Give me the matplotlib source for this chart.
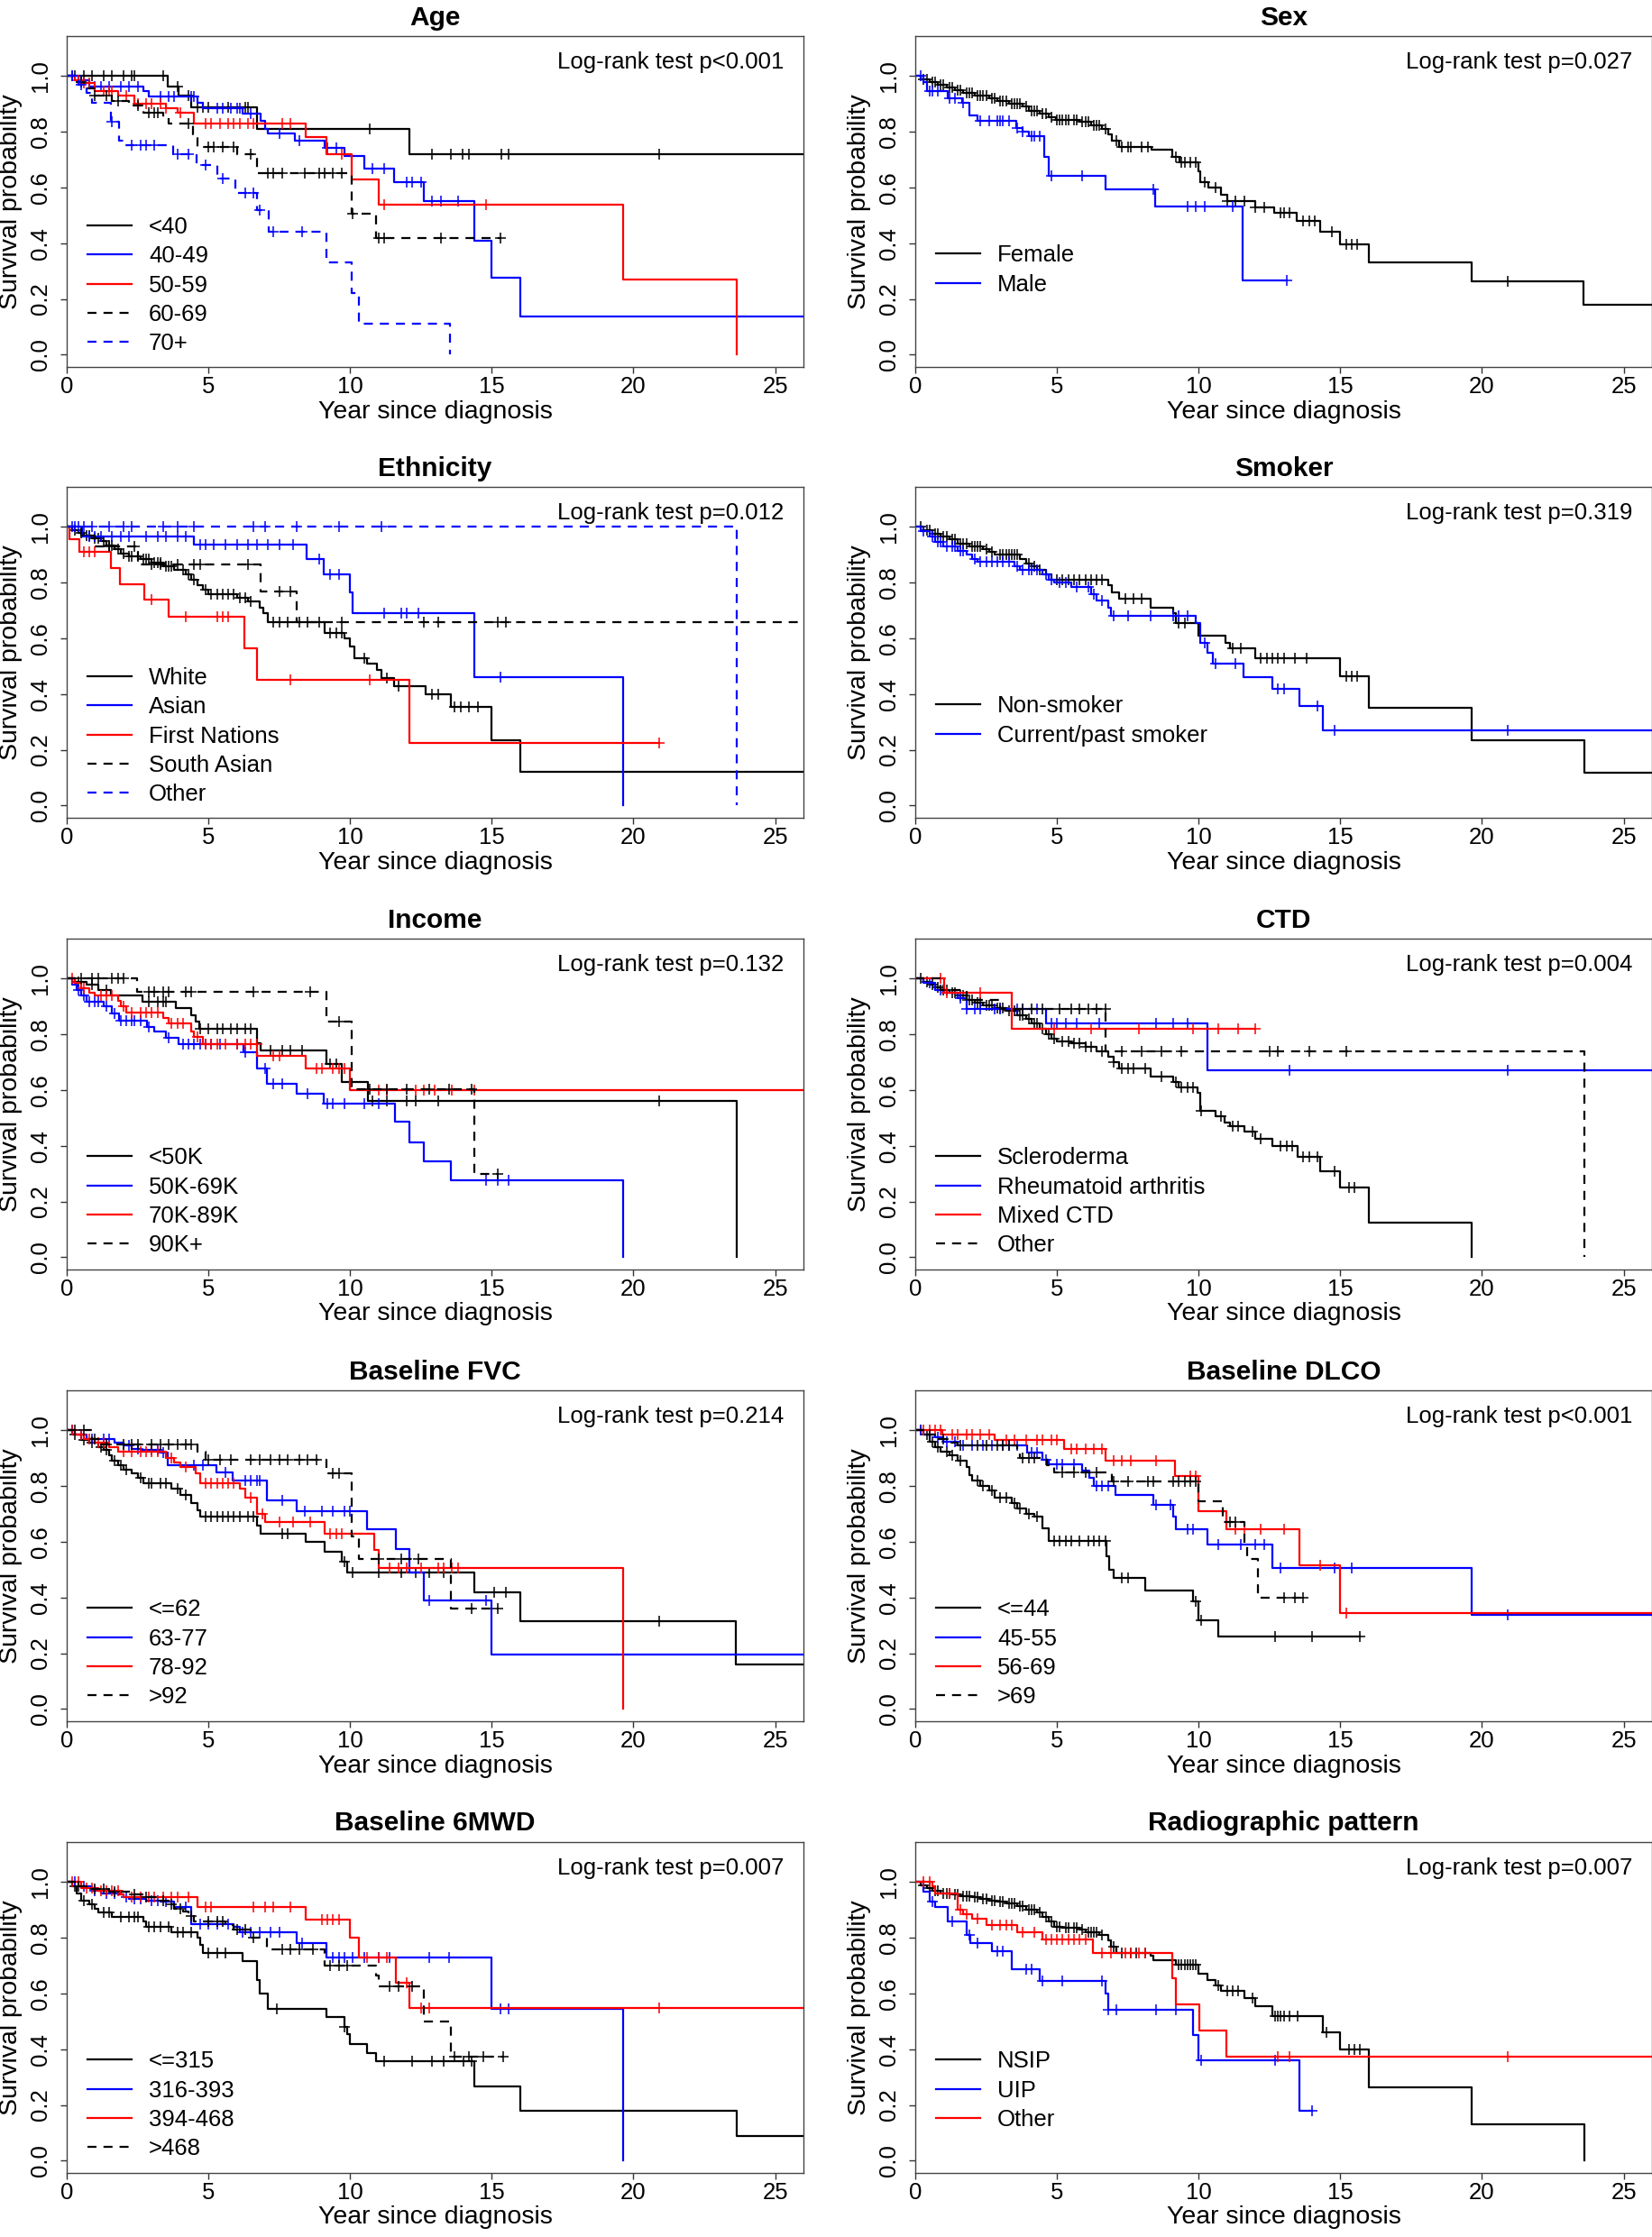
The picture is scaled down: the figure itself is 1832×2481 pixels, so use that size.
import numpy as np
import matplotlib.pyplot as plt

plt.rcParams['font.family'] = ['Liberation Sans', 'DejaVu Sans']

# Kaplan-Meier curves: step times (_t), survival after
# each step (_s), censoring times (_c), last follow-up (_end)

# --- Age ---
age_lt40_t = [3.57, 3.94, 4.40, 6.72, 12.09]
age_lt40_s = [0.964, 0.929, 0.889, 0.810, 0.721]
age_lt40_c = [0.3, 0.6, 0.9, 1.3, 1.6, 2.0, 2.3, 2.4, 3.4, 3.9, 4.3, 4.6, 4.8, 5.0, 5.7, 6.3, 6.4,
              10.7, 12.9, 13.55, 13.97, 14.2, 15.35, 15.6, 20.9]
age_lt40_end = 27
age_40_49_t = [0.4, 0.8, 2.7, 2.9, 4.6, 4.8, 6.2, 6.85, 7.0, 7.1, 8.06, 9.1, 9.8, 10.5, 11.55, 12.6, 14.4, 15.0, 16.0]
age_40_49_s = [0.985, 0.963, 0.945, 0.928, 0.905, 0.886, 0.867, 0.84, 0.81, 0.793, 0.767, 0.742, 0.715,
               0.667, 0.618, 0.55, 0.41, 0.275, 0.138]
age_40_49_c = [0.2, 0.5, 1.0, 1.2, 1.5, 1.9, 2.2, 2.5, 3.3, 3.6, 3.8, 4.4, 4.5, 5.3, 5.5, 5.8, 6.0, 6.1, 6.5,
               7.5, 8.2, 9.2, 9.5, 10.8, 11.2, 12.0, 12.2, 12.5, 12.9, 13.2, 13.8]
age_40_49_end = 27
age_50_59_t = [0.3, 0.55, 1.0, 1.8, 2.4, 3.5, 3.9, 4.5, 8.42, 9.16, 10.07, 11.0, 19.65, 23.63]
age_50_59_s = [0.985, 0.976, 0.948, 0.93, 0.90, 0.885, 0.868, 0.83, 0.78, 0.72, 0.63, 0.54, 0.27, 0.0]
age_50_59_c = [0.4, 0.6, 0.8, 1.3, 1.5, 1.6, 2.1, 2.5, 2.8, 3.0, 3.3, 3.5, 4.0, 4.9, 5.1, 5.4, 5.7, 5.9,
               6.1, 6.4, 6.6, 7.6, 7.9, 9.7, 11.2, 14.8]
age_50_59_end = 23.63
age_60_69_t = [0.3, 0.6, 1.0, 1.6, 2.2, 2.7, 3.4, 3.6, 4.45, 4.6, 6.0, 6.7, 10.07, 10.9]
age_60_69_s = [0.98, 0.955, 0.93, 0.91, 0.895, 0.87, 0.853, 0.83, 0.79, 0.745, 0.72, 0.653, 0.505, 0.42]
age_60_69_c = [0.5, 1.0, 1.4, 1.8, 2.5, 2.9, 3.1, 3.2, 4.3, 5.0, 5.2, 5.5, 5.9, 6.5, 7.1, 7.3, 7.6, 8.4,
               8.9, 9.1, 9.4, 9.7, 10.1, 11.0, 11.2, 13.2, 15.3]
age_60_69_end = 15.3
age_70_t = [0.4, 0.7, 0.9, 1.56, 1.83, 2.0, 3.75, 4.58, 5.3, 5.95, 6.7, 7.14, 9.16, 10.07, 10.3, 13.52]
age_70_s = [0.97, 0.94, 0.904, 0.837, 0.77, 0.752, 0.72, 0.68, 0.633, 0.58, 0.52, 0.44, 0.33, 0.22, 0.11, 0.0]
age_70_c = [0.2, 0.5, 1.6, 2.3, 2.6, 2.8, 3.1, 3.9, 4.3, 4.9, 5.5, 6.3, 6.6, 6.8, 7.3, 8.3]
age_70_end = 13.52

# --- Sex ---
female_t = [0.2, 0.5, 0.8, 1.1, 1.4, 1.7, 2.1, 2.6, 2.9, 3.3, 3.8, 4.0, 4.4, 4.7, 4.95, 5.8, 6.2, 6.6, 6.8,
            6.95, 7.2, 8.33, 9.06, 9.34, 9.98, 10.07, 10.35, 10.8, 11.0, 12.0, 12.65, 13.47, 14.3, 14.98,
            16.0, 19.63, 23.58]
female_s = [0.99, 0.98, 0.97, 0.96, 0.95, 0.94, 0.93, 0.92, 0.91, 0.90, 0.89, 0.875, 0.865, 0.852, 0.842,
            0.835, 0.825, 0.81, 0.79, 0.77, 0.745, 0.735, 0.71, 0.69, 0.66, 0.618, 0.60, 0.575, 0.552,
            0.53, 0.51, 0.48, 0.44, 0.395, 0.33, 0.265, 0.178]
female_c = [0.3, 0.4, 0.6, 0.7, 0.9, 1.0, 1.2, 1.3, 1.5, 1.6, 1.8, 1.9, 2.0, 2.2, 2.3, 2.4, 2.5, 2.7, 2.8,
            3.0, 3.1, 3.2, 3.4, 3.5, 3.6, 3.7, 3.9, 4.1, 4.2, 4.3, 4.5, 4.6, 4.8, 5.0, 5.1, 5.2, 5.3, 5.4,
            5.6, 5.7, 5.9, 6.0, 6.1, 6.3, 6.4, 6.5, 6.7, 7.1, 7.3, 7.5, 7.6, 8.0, 8.2, 9.2, 9.4, 9.5, 9.7,
            9.9, 10.2, 10.6, 11.0, 11.3, 11.6, 12.0, 12.3, 12.9, 13.0, 13.2, 13.7, 13.9, 14.1, 14.7, 15.2,
            15.4, 15.6, 20.9]
female_end = 27
male_t = [0.3, 0.4, 1.15, 1.65, 1.9, 2.2, 3.55, 3.8, 4.0, 4.55, 4.7, 6.7, 8.45, 11.55]
male_s = [0.98, 0.948, 0.92, 0.905, 0.86, 0.839, 0.815, 0.80, 0.785, 0.71, 0.642, 0.594, 0.533, 0.267]
male_c = [0.2, 0.5, 0.6, 0.8, 1.2, 1.4, 1.7, 2.3, 2.6, 2.9, 3.0, 3.1, 3.3, 3.6, 3.8, 4.1, 4.2, 4.4, 4.8,
          5.9, 8.4, 9.6, 9.9, 10.2, 11.2, 13.1]
male_end = 13.1

# --- Ethnicity ---
white_t = [0.2, 0.4, 0.6, 0.9, 1.2, 1.4, 1.7, 1.9, 2.2, 2.6, 3.0, 3.4, 3.8, 4.2, 4.4, 4.6, 4.8, 5.0, 6.0,
           6.4, 6.8, 6.95, 7.1, 9.1, 9.8, 10.0, 10.15, 10.6, 10.95, 11.1, 11.55, 12.65, 13.55, 15.0, 16.0]
white_s = [0.99, 0.98, 0.97, 0.96, 0.95, 0.935, 0.92, 0.905, 0.895, 0.885, 0.872, 0.86, 0.845, 0.83, 0.81,
           0.79, 0.775, 0.76, 0.745, 0.733, 0.71, 0.69, 0.657, 0.62, 0.60, 0.57, 0.53, 0.508, 0.486,
           0.459, 0.43, 0.40, 0.353, 0.235, 0.12]
white_c = [0.3, 0.5, 0.7, 0.8, 1.0, 1.1, 1.3, 1.5, 1.6, 1.8, 2.0, 2.2, 2.3, 2.5, 2.7, 2.8, 2.9, 3.1, 3.2,
           3.3, 3.5, 3.6, 3.7, 4.1, 4.3, 4.5, 4.9, 5.1, 5.3, 5.5, 5.7, 5.9, 6.1, 6.3, 6.5, 7.3, 7.5, 7.8,
           8.2, 8.5, 8.9, 9.3, 9.5, 9.7, 10.5, 11.3, 11.7, 12.9, 13.1, 13.7, 13.9, 14.2, 14.5]
white_end = 27
asian_t = [0.55, 4.5, 8.48, 9.07, 10.0, 10.1, 14.38, 19.65]
asian_s = [0.967, 0.937, 0.885, 0.83, 0.765, 0.692, 0.462, 0.0]
asian_c = [0.2, 0.4, 0.8, 1.0, 1.2, 1.6, 1.9, 2.2, 2.8, 3.2, 3.5, 3.9, 4.2, 4.7, 4.9, 5.2, 5.6, 6.0, 6.4,
           6.7, 7.1, 7.5, 8.0, 8.9, 9.3, 9.6, 11.2, 11.8, 12.0, 12.4, 15.3]
asian_end = 19.65
first_nations_t = [0.09, 0.46, 1.56, 1.87, 2.75, 3.6, 6.26, 6.72, 12.09]
first_nations_s = [0.955, 0.91, 0.853, 0.795, 0.738, 0.677, 0.565, 0.452, 0.226]
first_nations_c = [0.6, 0.8, 1.0, 3.0, 4.2, 5.3, 5.5, 5.7, 7.9, 10.7, 20.9]
first_nations_end = 20.9
south_asian_t = [0.5, 1.0, 2.5, 6.83, 8.11]
south_asian_s = [0.97, 0.93, 0.865, 0.77, 0.657]
south_asian_c = [1.5, 2.4, 3.0, 3.3, 3.9, 4.5, 4.7, 6.4, 7.5, 7.9, 9.7, 12.6, 13.1, 15.2, 15.5]
south_asian_end = 27
eth_other_t = [23.63]
eth_other_s = [0.0]
eth_other_c = [0.3, 0.6, 0.9, 1.5, 2.0, 2.3, 3.4, 3.9, 4.5, 6.6, 7.0, 8.1, 9.6, 11.1]
eth_other_end = 23.63

# --- Smoker ---
nonsmoker_t = [0.3, 0.6, 0.9, 1.2, 1.5, 1.9, 2.4, 2.6, 2.8, 3.7, 3.9, 4.1, 4.3, 4.6, 4.8, 6.8, 6.95, 7.2,
               8.3, 9.1, 9.2, 10.0, 10.95, 11.1, 12.0, 15.0, 16.0, 19.65, 23.6]
nonsmoker_s = [0.99, 0.975, 0.965, 0.955, 0.94, 0.93, 0.92, 0.91, 0.90, 0.885, 0.87, 0.86, 0.845, 0.83,
               0.812, 0.79, 0.765, 0.742, 0.71, 0.69, 0.655, 0.61, 0.585, 0.565, 0.53, 0.465, 0.35,
               0.233, 0.118]
nonsmoker_c = [0.2, 0.4, 0.5, 0.7, 0.8, 1.0, 1.1, 1.3, 1.4, 1.6, 1.7, 1.8, 2.0, 2.1, 2.2, 2.3, 2.5, 2.7,
               3.0, 3.1, 3.2, 3.3, 3.4, 3.5, 3.6, 4.0, 4.2, 4.4, 5.0, 5.2, 5.4, 5.6, 5.8, 6.0, 6.2, 6.4,
               6.6, 7.4, 7.7, 8.0, 9.3, 9.5, 11.2, 11.5, 12.2, 12.4, 12.6, 12.8, 13.0, 13.4, 13.8, 15.2,
               15.4, 15.6]
nonsmoker_end = 27
smoker_t = [0.2, 0.5, 0.7, 1.0, 1.5, 1.8, 2.0, 2.2, 3.5, 3.7, 4.5, 4.7, 4.9, 5.5, 6.2, 6.4, 6.8, 6.9, 9.9,
            10.05, 10.3, 10.5, 11.58, 12.6, 13.55, 14.38]
smoker_s = [0.985, 0.965, 0.945, 0.93, 0.915, 0.90, 0.885, 0.875, 0.86, 0.845, 0.83, 0.81, 0.80, 0.785,
            0.76, 0.737, 0.71, 0.68, 0.655, 0.585, 0.55, 0.51, 0.462, 0.418, 0.357, 0.27]
smoker_c = [0.3, 0.6, 0.8, 0.9, 1.1, 1.3, 1.4, 1.6, 1.7, 2.1, 2.3, 2.5, 2.7, 2.9, 3.1, 3.3, 3.6, 3.8, 4.0,
            4.1, 4.3, 4.6, 4.8, 5.1, 5.3, 5.7, 6.1, 6.3, 6.6, 7.0, 7.5, 8.3, 9.1, 9.3, 9.6, 10.2, 10.6,
            11.3, 12.8, 13.0, 14.2, 14.8, 20.9]
smoker_end = 27

# --- Income ---
inc_lt50_t = [0.3, 0.7, 1.1, 1.56, 2.66, 3.85, 4.4, 4.55, 4.67, 6.72, 6.83, 9.16, 9.7, 10.62, 23.63]
inc_lt50_s = [0.99, 0.98, 0.96, 0.94, 0.918, 0.895, 0.87, 0.845, 0.82, 0.77, 0.742, 0.695, 0.63, 0.56, 0.0]
inc_lt50_c = [0.4, 0.9, 1.4, 2.9, 3.2, 3.4, 3.5, 4.7, 5.0, 5.3, 5.5, 5.8, 6.0, 6.3, 6.5, 7.2, 7.6, 7.9,
              8.3, 9.3, 9.5, 10.8, 11.3, 12.0, 12.3, 13.1, 20.9]
inc_lt50_end = 23.63
inc_50_69_t = [0.2, 0.35, 0.5, 0.7, 1.3, 1.6, 1.85, 2.84, 3.1, 3.5, 3.94, 6.23, 6.72, 7.05, 8.11, 9.07,
               11.59, 12.09, 12.6, 13.55, 19.65]
inc_50_69_s = [0.98, 0.96, 0.94, 0.918, 0.902, 0.875, 0.848, 0.826, 0.81, 0.788, 0.764, 0.737, 0.679,
               0.622, 0.587, 0.552, 0.486, 0.413, 0.345, 0.277, 0.0]
inc_50_69_c = [0.4, 0.6, 0.8, 1.0, 1.1, 1.4, 1.7, 1.9, 2.1, 2.3, 2.4, 2.6, 2.9, 3.6, 4.1, 4.3, 4.5, 4.7,
               4.9, 5.1, 5.4, 6.0, 6.3, 7.0, 7.3, 7.6, 8.5, 9.2, 9.4, 9.8, 10.5, 11.0, 14.8, 15.2, 15.6]
inc_50_69_end = 19.65
inc_70_89_t = [0.3, 0.5, 0.8, 1.0, 1.8, 1.9, 2.1, 3.4, 3.6, 4.4, 4.5, 4.8, 6.72, 8.42, 10.0]
inc_70_89_s = [0.985, 0.965, 0.95, 0.94, 0.92, 0.90, 0.88, 0.86, 0.84, 0.81, 0.79, 0.765, 0.722, 0.678, 0.60]
inc_70_89_c = [0.2, 0.6, 1.2, 1.4, 1.6, 2.0, 2.3, 2.6, 2.8, 3.0, 3.2, 3.7, 3.9, 4.1, 4.6, 4.9, 5.1, 5.3,
               5.6, 6.0, 6.3, 6.5, 6.7, 7.3, 7.5, 8.8, 9.0, 9.4, 9.6, 9.8, 11.0, 11.3, 12.3, 12.6, 13.0,
               13.6, 14.4]
inc_70_89_end = 27
inc_90_t = [2.47, 9.16, 10.07, 14.38]
inc_90_s = [0.952, 0.845, 0.605, 0.30]
inc_90_c = [0.5, 0.9, 1.1, 1.6, 1.8, 2.0, 2.9, 3.1, 3.4, 3.6, 4.2, 4.4, 6.6, 8.6, 9.6, 10.7, 11.3, 12.0,
            12.8, 13.5, 14.3, 15.2]
inc_90_end = 15.2

# --- CTD ---
scl_t = [0.3, 0.5, 0.7, 0.9, 1.2, 1.5, 1.8, 2.1, 2.4, 2.8, 3.2, 3.6, 3.9, 4.1, 4.4, 4.6, 4.8, 5.0, 5.5,
         6.0, 6.4, 6.8, 7.0, 7.2, 8.3, 9.1, 9.3, 9.95, 10.05, 10.6, 10.9, 11.1, 11.6, 12.0, 12.6, 13.5,
         14.3, 15.0, 16.0, 19.65]
scl_s = [0.99, 0.98, 0.97, 0.96, 0.95, 0.94, 0.925, 0.915, 0.905, 0.895, 0.885, 0.87, 0.855, 0.84, 0.82,
         0.80, 0.785, 0.775, 0.768, 0.755, 0.74, 0.72, 0.70, 0.677, 0.65, 0.63, 0.61, 0.59, 0.525, 0.505,
         0.485, 0.47, 0.45, 0.425, 0.40, 0.362, 0.31, 0.25, 0.125, 0.0]
scl_c = [0.2, 0.4, 0.6, 0.8, 1.0, 1.1, 1.3, 1.4, 1.6, 1.7, 1.9, 2.0, 2.2, 2.3, 2.5, 2.6, 2.7, 2.9, 3.0,
         3.1, 3.3, 3.4, 3.5, 3.7, 3.8, 4.0, 4.2, 4.3, 4.5, 4.7, 4.9, 5.2, 5.4, 5.6, 5.8, 6.0, 6.2, 6.6,
         7.0, 7.3, 7.5, 7.7, 8.1, 8.7, 9.2, 9.4, 9.6, 9.8, 10.1, 10.8, 11.2, 11.4, 11.9, 12.2, 12.9,
         13.1, 13.3, 13.7, 13.9, 14.2, 14.8, 15.3, 15.5]
scl_end = 19.65
ra_t = [0.3, 0.7, 1.0, 1.5, 1.8, 4.6, 10.3]
ra_s = [0.985, 0.96, 0.95, 0.93, 0.89, 0.84, 0.672]
ra_c = [0.5, 0.9, 1.6, 1.8, 2.1, 2.3, 2.8, 3.0, 3.6, 3.8, 4.3, 4.8, 5.0, 5.3, 5.7, 6.5, 8.5, 9.1, 9.6,
        13.2, 20.9]
ra_end = 27
mctd_t = [1.03, 3.4]
mctd_s = [0.95, 0.82]
mctd_c = [0.9, 1.1, 2.3, 4.9, 6.2, 7.9, 9.8, 10.7, 11.4, 12.0]
mctd_end = 12.0
ctd_other_t = [0.9, 1.8, 3.0, 6.71, 23.62]
ctd_other_s = [0.96, 0.925, 0.89, 0.74, 0.0]
ctd_other_c = [3.8, 4.1, 4.5, 5.1, 5.5, 5.8, 6.1, 6.4, 6.7, 7.3, 8.0, 8.7, 9.4, 12.5, 12.8, 13.9, 15.2]
ctd_other_end = 23.62

# --- Baseline FVC ---
fvc_62_t = [0.2, 0.5, 0.8, 1.1, 1.3, 1.5, 1.6, 1.8, 2.0, 2.3, 2.5, 2.7, 3.7, 4.0, 4.4, 4.6, 4.7, 6.72,
            6.85, 8.42, 9.1, 9.7, 9.9, 14.4, 16.0, 23.62]
fvc_62_s = [0.985, 0.965, 0.955, 0.94, 0.93, 0.91, 0.89, 0.875, 0.86, 0.845, 0.83, 0.81, 0.79, 0.77,
            0.74, 0.715, 0.69, 0.66, 0.63, 0.60, 0.565, 0.53, 0.49, 0.42, 0.316, 0.16]
fvc_62_c = [0.3, 0.6, 0.9, 1.2, 1.4, 1.7, 1.9, 2.1, 2.6, 2.9, 3.0, 3.3, 3.5, 3.9, 4.2, 4.9, 5.1, 5.3, 5.5,
            5.7, 5.9, 6.1, 6.4, 6.6, 7.6, 7.8, 9.8, 10.1, 11.0, 11.8, 12.3, 12.8, 13.3, 15.1, 15.5, 20.9]
fvc_62_end = 27
fvc_63_77_t = [0.3, 0.7, 1.7, 2.0, 2.3, 2.6, 3.3, 3.55, 5.29, 5.86, 7.05, 8.1, 10.6, 11.6, 12.1, 12.6, 15.0]
fvc_63_77_s = [0.985, 0.97, 0.955, 0.945, 0.935, 0.93, 0.92, 0.875, 0.85, 0.82, 0.75, 0.71, 0.645, 0.573,
               0.49, 0.39, 0.197]
fvc_63_77_c = [0.2, 0.5, 0.9, 1.3, 1.5, 2.2, 2.5, 3.0, 3.2, 3.4, 4.5, 4.8, 5.6, 6.3, 6.5, 6.7, 6.8, 7.6,
               8.4, 9.0, 9.4, 9.8, 10.0, 12.8, 14.8]
fvc_63_77_end = 27
fvc_78_92_t = [0.3, 0.6, 1.0, 1.5, 1.8, 3.5, 3.8, 4.0, 4.55, 4.7, 6.1, 6.3, 6.72, 7.0, 9.1, 10.85, 11.0, 19.65]
fvc_78_92_s = [0.985, 0.97, 0.955, 0.94, 0.925, 0.90, 0.885, 0.87, 0.845, 0.81, 0.79, 0.76, 0.70, 0.67,
               0.63, 0.57, 0.505, 0.0]
fvc_78_92_c = [0.2, 0.5, 0.8, 1.1, 1.3, 2.0, 2.3, 2.6, 2.8, 3.0, 3.2, 3.7, 4.2, 4.9, 5.1, 5.3, 5.5, 5.7,
               5.9, 6.5, 6.9, 7.5, 8.0, 8.6, 9.3, 9.5, 9.7, 11.4, 11.7, 12.0, 12.5, 13.1, 13.3, 13.6, 13.8]
fvc_78_92_end = 19.65
fvc_92_t = [0.9, 1.2, 4.6, 4.9, 9.16, 10.07, 10.3, 13.55]
fvc_92_s = [0.97, 0.95, 0.925, 0.895, 0.845, 0.62, 0.54, 0.36]
fvc_92_c = [0.3, 0.6, 1.0, 1.4, 2.0, 2.3, 2.5, 3.0, 3.3, 3.6, 3.9, 4.2, 4.4, 5.0, 5.4, 5.8, 6.5, 6.8, 7.2,
            7.5, 7.8, 8.2, 8.5, 8.8, 9.4, 9.6, 11.0, 11.8, 12.4, 14.3, 15.2]
fvc_92_end = 15.2

# --- Baseline DLCO ---
dlco_44_t = [0.3, 0.5, 0.7, 0.9, 1.2, 1.5, 1.8, 1.9, 2.0, 2.3, 2.6, 2.8, 3.4, 3.6, 3.9, 4.2, 4.5, 4.7,
             6.75, 6.85, 7.0, 8.1, 9.8, 10.0, 10.7]
dlco_44_s = [0.985, 0.96, 0.94, 0.925, 0.91, 0.89, 0.87, 0.84, 0.82, 0.80, 0.785, 0.76, 0.74, 0.72, 0.70,
             0.69, 0.65, 0.605, 0.55, 0.50, 0.47, 0.425, 0.385, 0.32, 0.26]
dlco_44_c = [0.2, 0.4, 0.6, 0.8, 1.1, 1.3, 1.6, 2.2, 2.4, 2.7, 3.0, 3.2, 3.5, 3.7, 4.0, 4.3, 4.9, 5.1, 5.3,
             5.5, 5.8, 6.1, 6.3, 6.5, 6.7, 7.3, 7.5, 9.9, 10.1, 12.7, 14.0, 15.7]
dlco_44_end = 15.7
dlco_45_55_t = [0.3, 0.7, 1.0, 1.5, 3.95, 4.5, 4.7, 5.88, 6.15, 6.3, 7.05, 8.4, 9.1, 9.2, 10.3, 12.6, 19.65]
dlco_45_55_s = [0.985, 0.975, 0.96, 0.945, 0.92, 0.895, 0.88, 0.855, 0.83, 0.80, 0.77, 0.733, 0.69, 0.645,
                0.59, 0.507, 0.338]
dlco_45_55_c = [0.2, 0.5, 0.8, 1.1, 1.4, 1.7, 2.0, 2.4, 2.7, 3.1, 3.3, 3.6, 4.1, 4.3, 4.6, 5.0, 5.2, 5.6,
                6.4, 6.6, 6.8, 8.5, 9.0, 9.6, 9.8, 10.7, 11.5, 12.0, 12.3, 12.9, 14.8, 15.4, 20.9]
dlco_45_55_end = 27
dlco_56_69_t = [0.97, 2.81, 5.26, 6.72, 9.16, 10.0, 10.97, 13.55, 15.0]
dlco_56_69_s = [0.986, 0.965, 0.935, 0.893, 0.837, 0.71, 0.645, 0.517, 0.343]
dlco_56_69_c = [0.3, 0.5, 0.7, 0.9, 1.3, 1.5, 1.8, 2.0, 2.3, 2.6, 3.2, 3.5, 3.9, 4.3, 4.5, 4.8, 5.0, 5.5,
                5.7, 6.0, 6.3, 6.6, 7.0, 7.3, 7.6, 8.5, 9.7, 9.9, 11.3, 11.6, 12.2, 13.0, 14.3, 15.2]
dlco_56_69_end = 27
dlco_69_t = [0.4, 0.8, 1.2, 1.5, 3.6, 3.7, 4.65, 4.9, 6.95, 10.0, 10.85, 11.6, 11.7, 12.1]
dlco_69_s = [0.985, 0.97, 0.955, 0.945, 0.92, 0.90, 0.875, 0.85, 0.818, 0.745, 0.67, 0.59, 0.54, 0.40]
dlco_69_c = [0.5, 1.0, 1.6, 2.2, 2.5, 2.9, 3.1, 3.3, 3.8, 4.0, 4.2, 5.2, 5.6, 6.0, 6.4, 7.0, 7.5, 8.2, 8.4,
             9.1, 9.3, 9.5, 9.7, 9.9, 11.1, 11.3, 13.0, 13.4, 13.7]
dlco_69_end = 13.7

# --- Baseline 6MWD ---
mwd_315_t = [0.2, 0.35, 0.5, 0.8, 1.0, 1.1, 1.6, 2.7, 2.8, 3.7, 4.6, 4.7, 4.8, 6.2, 6.72, 6.8, 7.1, 9.16,
             9.8, 9.9, 10.0, 10.6, 10.9, 14.4, 16.0, 23.63]
mwd_315_s = [0.985, 0.96, 0.935, 0.92, 0.905, 0.89, 0.875, 0.86, 0.84, 0.82, 0.80, 0.775, 0.745, 0.716,
             0.65, 0.60, 0.545, 0.515, 0.48, 0.455, 0.42, 0.385, 0.356, 0.267, 0.178, 0.089]
mwd_315_c = [0.3, 0.6, 0.9, 1.3, 1.5, 1.9, 2.2, 2.4, 2.5, 2.9, 3.1, 3.3, 3.6, 3.9, 4.1, 4.4, 5.0, 5.3, 5.6,
             7.4, 9.8, 11.2, 12.2, 12.9, 13.3, 14.0, 14.3]
mwd_315_end = 27
mwd_316_393_t = [0.4, 0.9, 1.2, 1.8, 2.0, 2.2, 2.8, 3.3, 3.8, 4.4, 5.9, 6.1, 8.1, 9.16, 15.0, 19.65]
mwd_316_393_s = [0.985, 0.97, 0.96, 0.955, 0.945, 0.94, 0.935, 0.93, 0.91, 0.85, 0.84, 0.82, 0.78, 0.73,
                 0.545, 0.0]
mwd_316_393_c = [0.3, 0.6, 1.0, 1.4, 1.7, 2.1, 2.4, 2.6, 3.0, 3.2, 3.5, 4.2, 4.7, 5.0, 5.3, 5.7, 6.2, 6.5,
                 6.8, 7.2, 7.5, 8.3, 9.4, 9.6, 9.8, 10.1, 10.5, 11.0, 11.4, 12.8, 13.5, 15.3, 15.6]
mwd_316_393_end = 19.65
mwd_394_468_t = [0.5, 1.1, 1.9, 2.0, 4.6, 8.42, 10.0, 10.3, 11.6, 12.1]
mwd_394_468_s = [0.98, 0.97, 0.955, 0.945, 0.91, 0.865, 0.80, 0.73, 0.64, 0.55]
mwd_394_468_c = [0.2, 0.4, 0.7, 0.9, 1.2, 1.4, 1.6, 1.8, 2.3, 2.6, 2.9, 3.1, 3.4, 3.7, 3.9, 4.3, 4.9, 5.1,
                 6.6, 7.0, 7.3, 7.9, 9.0, 9.2, 9.4, 9.6, 10.6, 11.0, 11.3, 12.0, 12.5, 12.8, 20.9]
mwd_394_468_end = 27
mwd_468_t = [0.3, 0.8, 1.5, 2.3, 2.7, 3.2, 3.6, 3.8, 4.1, 4.3, 4.5, 5.6, 5.9, 6.5, 7.05, 9.1, 10.9, 11.0,
             12.6, 13.55]
mwd_468_s = [0.985, 0.975, 0.965, 0.955, 0.945, 0.935, 0.92, 0.905, 0.895, 0.88, 0.86, 0.845, 0.83, 0.80,
             0.76, 0.70, 0.665, 0.625, 0.50, 0.375]
mwd_468_c = [0.4, 1.0, 1.3, 1.7, 2.4, 2.8, 3.4, 3.7, 4.0, 4.4, 5.0, 5.3, 5.5, 6.0, 6.3, 6.6, 7.6, 7.9, 8.2,
             8.7, 9.3, 9.6, 9.9, 11.4, 11.7, 12.2, 13.7, 14.2, 14.7, 15.4]
mwd_468_end = 15.4

# --- Radiographic pattern ---
nsip_t = [0.2, 0.4, 0.6, 0.9, 1.3, 1.6, 2.0, 2.3, 2.6, 2.9, 3.2, 3.6, 3.9, 4.3, 4.5, 4.7, 4.9, 5.2, 5.8,
          6.0, 6.5, 6.8, 6.9, 7.1, 8.3, 8.4, 9.2, 10.0, 10.3, 10.6, 10.8, 11.6, 12.0, 12.6, 14.4, 15.0,
          16.0, 19.65, 23.62]
nsip_s = [0.99, 0.98, 0.97, 0.96, 0.955, 0.95, 0.945, 0.94, 0.935, 0.93, 0.925, 0.915, 0.90, 0.89, 0.875,
          0.86, 0.84, 0.835, 0.83, 0.82, 0.81, 0.79, 0.77, 0.745, 0.735, 0.72, 0.705, 0.67, 0.65, 0.63,
          0.61, 0.585, 0.555, 0.52, 0.462, 0.398, 0.265, 0.132, 0.0]
nsip_c = [0.3, 0.5, 0.7, 0.8, 1.0, 1.1, 1.2, 1.4, 1.5, 1.7, 1.8, 1.9, 2.1, 2.2, 2.4, 2.5, 2.7, 2.8, 3.0,
          3.1, 3.3, 3.4, 3.5, 3.7, 3.8, 4.0, 4.1, 4.2, 4.4, 4.6, 4.8, 5.0, 5.1, 5.3, 5.4, 5.6, 5.7, 5.9,
          6.1, 6.2, 6.3, 6.4, 6.6, 7.0, 7.3, 7.6, 7.8, 8.1, 9.3, 9.4, 9.5, 9.6, 9.7, 9.8, 9.9, 10.7,
          11.0, 11.2, 11.4, 11.9, 12.7, 12.8, 12.9, 13.0, 13.2, 13.5, 14.5, 15.3, 15.5, 15.7]
nsip_end = 23.62
uip_t = [0.3, 0.5, 0.7, 1.15, 1.8, 1.95, 2.7, 3.4, 4.4, 6.7, 6.8, 9.8, 10.0, 13.55]
uip_s = [0.965, 0.93, 0.91, 0.86, 0.81, 0.78, 0.752, 0.687, 0.645, 0.60, 0.542, 0.45, 0.362, 0.18]
uip_c = [0.6, 1.3, 1.9, 2.2, 2.9, 3.1, 3.9, 4.1, 4.5, 5.2, 6.6, 6.8, 7.1, 8.5, 9.2, 10.1, 12.7, 14.0]
uip_end = 14.0
rad_other_t = [0.6, 0.7, 1.5, 1.7, 2.0, 2.5, 3.6, 4.5, 6.27, 9.06, 9.2, 10.04, 10.99]
rad_other_s = [0.985, 0.96, 0.90, 0.885, 0.87, 0.845, 0.82, 0.795, 0.745, 0.655, 0.56, 0.467, 0.375]
rad_other_c = [0.3, 0.5, 1.2, 1.6, 1.8, 2.2, 2.7, 3.0, 3.2, 3.4, 3.8, 4.2, 4.6, 4.8, 5.0, 5.2, 5.4, 5.6,
               5.8, 6.0, 6.6, 6.9, 7.4, 7.6, 7.9, 8.1, 12.8, 13.2, 20.9]
rad_other_end = 27

BLK, BLU, RED = 'black', '#0000FF', '#FF0000'

panels = [
    ("Age", "Log-rank test p<0.001", [
        ("<40", age_lt40_t, age_lt40_s, age_lt40_c, age_lt40_end, BLK, '-'),
        ("40-49", age_40_49_t, age_40_49_s, age_40_49_c, age_40_49_end, BLU, '-'),
        ("50-59", age_50_59_t, age_50_59_s, age_50_59_c, age_50_59_end, RED, '-'),
        ("60-69", age_60_69_t, age_60_69_s, age_60_69_c, age_60_69_end, BLK, '--'),
        ("70+", age_70_t, age_70_s, age_70_c, age_70_end, BLU, '--')]),
    ("Sex", "Log-rank test p=0.027", [
        ("Female", female_t, female_s, female_c, female_end, BLK, '-'),
        ("Male", male_t, male_s, male_c, male_end, BLU, '-')]),
    ("Ethnicity", "Log-rank test p=0.012", [
        ("White", white_t, white_s, white_c, white_end, BLK, '-'),
        ("Asian", asian_t, asian_s, asian_c, asian_end, BLU, '-'),
        ("First Nations", first_nations_t, first_nations_s, first_nations_c, first_nations_end, RED, '-'),
        ("South Asian", south_asian_t, south_asian_s, south_asian_c, south_asian_end, BLK, '--'),
        ("Other", eth_other_t, eth_other_s, eth_other_c, eth_other_end, BLU, '--')]),
    ("Smoker", "Log-rank test p=0.319", [
        ("Non-smoker", nonsmoker_t, nonsmoker_s, nonsmoker_c, nonsmoker_end, BLK, '-'),
        ("Current/past smoker", smoker_t, smoker_s, smoker_c, smoker_end, BLU, '-')]),
    ("Income", "Log-rank test p=0.132", [
        ("<50K", inc_lt50_t, inc_lt50_s, inc_lt50_c, inc_lt50_end, BLK, '-'),
        ("50K-69K", inc_50_69_t, inc_50_69_s, inc_50_69_c, inc_50_69_end, BLU, '-'),
        ("70K-89K", inc_70_89_t, inc_70_89_s, inc_70_89_c, inc_70_89_end, RED, '-'),
        ("90K+", inc_90_t, inc_90_s, inc_90_c, inc_90_end, BLK, '--')]),
    ("CTD", "Log-rank test p=0.004", [
        ("Scleroderma", scl_t, scl_s, scl_c, scl_end, BLK, '-'),
        ("Rheumatoid arthritis", ra_t, ra_s, ra_c, ra_end, BLU, '-'),
        ("Mixed CTD", mctd_t, mctd_s, mctd_c, mctd_end, RED, '-'),
        ("Other", ctd_other_t, ctd_other_s, ctd_other_c, ctd_other_end, BLK, '--')]),
    ("Baseline FVC", "Log-rank test p=0.214", [
        ("<=62", fvc_62_t, fvc_62_s, fvc_62_c, fvc_62_end, BLK, '-'),
        ("63-77", fvc_63_77_t, fvc_63_77_s, fvc_63_77_c, fvc_63_77_end, BLU, '-'),
        ("78-92", fvc_78_92_t, fvc_78_92_s, fvc_78_92_c, fvc_78_92_end, RED, '-'),
        (">92", fvc_92_t, fvc_92_s, fvc_92_c, fvc_92_end, BLK, '--')]),
    ("Baseline DLCO", "Log-rank test p<0.001", [
        ("<=44", dlco_44_t, dlco_44_s, dlco_44_c, dlco_44_end, BLK, '-'),
        ("45-55", dlco_45_55_t, dlco_45_55_s, dlco_45_55_c, dlco_45_55_end, BLU, '-'),
        ("56-69", dlco_56_69_t, dlco_56_69_s, dlco_56_69_c, dlco_56_69_end, RED, '-'),
        (">69", dlco_69_t, dlco_69_s, dlco_69_c, dlco_69_end, BLK, '--')]),
    ("Baseline 6MWD", "Log-rank test p=0.007", [
        ("<=315", mwd_315_t, mwd_315_s, mwd_315_c, mwd_315_end, BLK, '-'),
        ("316-393", mwd_316_393_t, mwd_316_393_s, mwd_316_393_c, mwd_316_393_end, BLU, '-'),
        ("394-468", mwd_394_468_t, mwd_394_468_s, mwd_394_468_c, mwd_394_468_end, RED, '-'),
        (">468", mwd_468_t, mwd_468_s, mwd_468_c, mwd_468_end, BLK, '--')]),
    ("Radiographic pattern", "Log-rank test p=0.007", [
        ("NSIP", nsip_t, nsip_s, nsip_c, nsip_end, BLK, '-'),
        ("UIP", uip_t, uip_s, uip_c, uip_end, BLU, '-'),
        ("Other", rad_other_t, rad_other_s, rad_other_c, rad_other_end, RED, '-')]),
]

W, H = 1833, 2481
fig = plt.figure(figsize=(W / 100, H / 100), dpi=100)

col_x = [74, 1015]
col_w = 817
row_top = [40, 540, 1041, 1542, 2043]
row_h = 367
LW = 1.6

for i, (title, ptext, series) in enumerate(panels):
    r, c = divmod(i, 2)
    ax = fig.add_axes([col_x[c] / W, 1 - (row_top[r] + row_h) / H, col_w / W, row_h / H])
    for label, t, s, cens, end, color, ls in series:
        t = np.asarray(t, float)
        s = np.asarray(s, float)
        x = np.r_[0.0, t]
        y = np.r_[1.0, s]
        if end > x[-1]:
            x = np.r_[x, end]
            y = np.r_[y, y[-1]]
        kw = dict(color=color, lw=LW, label=label)
        if ls == '--':
            kw['dashes'] = (4.5, 3.5)
        ax.step(x, y, where='post', **kw)
        cens = np.asarray(cens, float)
        cy = np.r_[1.0, s][np.searchsorted(t, cens, side='right')]
        ax.plot(cens, cy, '+', color=color, ms=8, mew=1.1, ls='none')

    ax.set_xlim(0, 26)
    ax.set_ylim(-0.044, 1.144)
    ax.set_xticks([0, 5, 10, 15, 20, 25])
    ax.set_yticks([0, 0.2, 0.4, 0.6, 0.8, 1.0])
    ax.set_yticklabels(['0.0', '0.2', '0.4', '0.6', '0.8', '1.0'])
    ax.tick_params(axis='both', labelsize=18.5, length=5, width=1, color='#333333')
    ax.tick_params(axis='x', pad=2)
    ax.tick_params(axis='y', pad=7, labelrotation=90)
    for lab in ax.get_yticklabels():
        lab.set_va('center')
    for sp in ax.spines.values():
        sp.set_color('#444444')
        sp.set_linewidth(1.0)
    ax.set_title(title, fontsize=21.5, fontweight='bold', pad=9)
    ax.set_xlabel("Year since diagnosis", fontsize=20.5, labelpad=2)
    ax.set_ylabel("Survival probability", fontsize=20.5, labelpad=6)
    ax.text(0.973, 0.92, ptext, transform=ax.transAxes, ha='right', va='center', fontsize=18.5)

    top_row = 0.451 if len(series) == 5 else 0.35
    ax.legend(loc='upper left', bbox_to_anchor=(0.73, top_row + 0.045),
              bbox_transform=ax.transData, frameon=False, fontsize=18.5,
              borderpad=0, borderaxespad=0, handlelength=1.9, handletextpad=0.75,
              labelspacing=0.32)

fig.savefig('out.png', dpi=100)
